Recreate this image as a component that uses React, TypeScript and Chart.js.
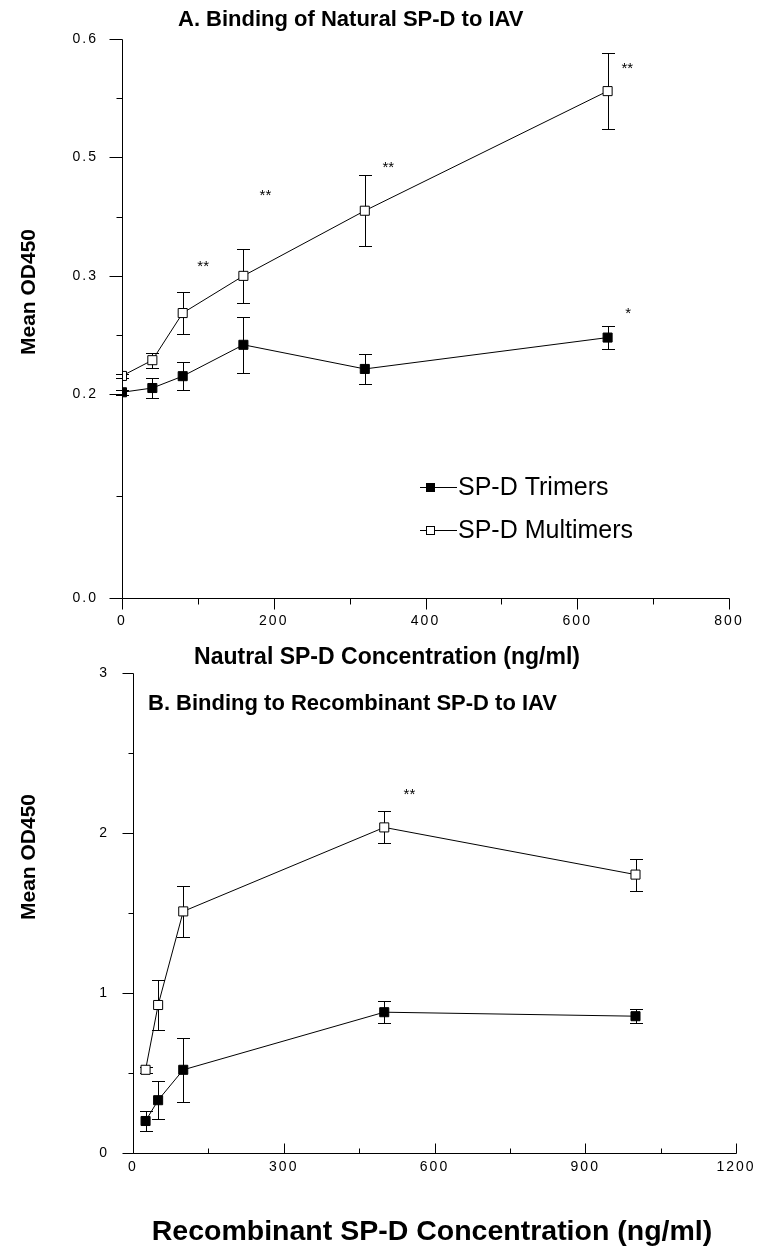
import React, { useEffect, useRef } from 'react';
import { Chart, registerables } from 'chart.js';

Chart.register(...registerables);

// ---------------- Panel A data ----------------
const X_A = [0, 40, 80, 160, 320, 640];
const TRIMER_A = [0.3017, 0.3053, 0.3153, 0.3418, 0.3214, 0.3479];
const TRIMER_A_ERR = [0.002, 0.0085, 0.0116, 0.0237, 0.0125, 0.0097];
const MULTIMER_A = [0.3155, 0.3288, 0.3686, 0.4, 0.455, 0.556];
const MULTIMER_A_ERR = [0.002, 0.0064, 0.018, 0.023, 0.03, 0.032];
const X_TICKS_A = [0, 200, 400, 600, 800];
const Y_TICKS_A = [0.128, 0.3, 0.4, 0.5, 0.6];
const Y_TICK_LABELS_A = ['0.0', '0.2', '0.3', '0.5', '0.6'];
const STAR_A_X = [107, 189, 351, 666, 667];
const STAR_A_Y = [0.4076, 0.4678, 0.4915, 0.5746, 0.3678];
const STAR_A_TEXT = ['**', '**', '**', '**', '*'];

// ---------------- Panel B data ----------------
const X_B = [25, 50, 100, 500, 1000];
const TRIMER_B = [0.2, 0.33, 0.52, 0.88, 0.855];
const TRIMER_B_ERR = [0.06, 0.12, 0.2, 0.07, 0.045];
const MULTIMER_B = [0.52, 0.925, 1.51, 2.035, 1.74];
const MULTIMER_B_ERR = [0.02, 0.155, 0.16, 0.1, 0.1];
const X_TICKS_B = [0, 300, 600, 900, 1200];
const Y_TICKS_B = [0, 1, 2, 3];
const Y_TICK_LABELS_B = ['0', '1', '2', '3'];
const STAR_B_X = [550];
const STAR_B_Y = [2.24];
const STAR_B_TEXT = ['**'];

const SERIES_LABELS = ['SP-D Trimers', 'SP-D Multimers'];

const FONT = '"Liberation Sans", Arial, Helvetica, sans-serif';
const W = 764;

type TextSpec = { text: string; x: number; y: number; align: CanvasTextAlign; size: number; rotate?: boolean };

type PanelSpec = {
  height: number;
  area: { left: number; top: number; right: number; bottom: number };
  xs: number[];
  trimer: number[];
  trimerErr: number[];
  multimer: number[];
  multimerErr: number[];
  xMin: number;
  xMax: number;
  xTicks: number[];
  yMin: number;
  yMax: number;
  yTicks: number[];
  yLabels: string[];
  xTickLen: number;
  xTickUp: boolean;
  yTickLen: number;
  minorLen: number;
  xPad: number;
  yPad: number;
  title: TextSpec;
  xTitle: TextSpec;
  yTitle: TextSpec;
  starX: number[];
  starY: number[];
  starText: string[];
  legend?: { x: number; y1: number; y2: number };
};

function midpoints(v: number[]) {
  const out: number[] = [];
  for (let i = 0; i < v.length - 1; i++) out.push((v[i] + v[i + 1]) / 2);
  return out;
}

function drawSquare(ctx: CanvasRenderingContext2D, x: number, y: number, filled: boolean) {
  const s = 9;
  ctx.save();
  ctx.fillStyle = filled ? '#000' : '#fff';
  ctx.strokeStyle = '#000';
  ctx.lineWidth = 1;
  ctx.fillRect(Math.round(x - s / 2), Math.round(y - s / 2), s, s);
  ctx.strokeRect(Math.round(x - s / 2) + 0.5, Math.round(y - s / 2) + 0.5, s - 1, s - 1);
  ctx.restore();
}

function buildChart(canvas: HTMLCanvasElement, p: PanelSpec) {
  const H = p.height;
  const decor = {
    id: 'decor',
    beforeDraw(chart: any) {
      (chart.ctx as any).letterSpacing = '2px';
    },
    beforeDatasetsDraw(chart: any) {
      const ctx: CanvasRenderingContext2D = chart.ctx;
      (ctx as any).letterSpacing = '0px';
      const xs = chart.scales.x;
      const ys = chart.scales.y;
      ctx.save();
      ctx.strokeStyle = '#000';
      ctx.lineWidth = 1;
      const groups: [number[], number[]][] = [
        [p.trimer, p.trimerErr],
        [p.multimer, p.multimerErr],
      ];
      groups.forEach(([vals, errs]) => {
        vals.forEach((v, i) => {
          const px = Math.round(xs.getPixelForValue(p.xs[i])) + 0.5;
          const top = Math.round(ys.getPixelForValue(v + errs[i])) + 0.5;
          const bot = Math.round(ys.getPixelForValue(v - errs[i])) + 0.5;
          ctx.beginPath();
          ctx.moveTo(px, top);
          ctx.lineTo(px, bot);
          ctx.moveTo(px - 6.5, top);
          ctx.lineTo(px + 6.5, top);
          ctx.moveTo(px - 6.5, bot);
          ctx.lineTo(px + 6.5, bot);
          ctx.stroke();
        });
      });
      ctx.restore();
    },
    afterDraw(chart: any) {
      const ctx: CanvasRenderingContext2D = chart.ctx;
      (ctx as any).letterSpacing = '0px';
      const xs = chart.scales.x;
      const ys = chart.scales.y;
      const a = chart.chartArea;
      ctx.save();
      ctx.strokeStyle = '#000';
      ctx.lineWidth = 1;
      const L = Math.round(a.left) + 0.5;
      const B = Math.round(a.bottom) + 0.5;
      ctx.beginPath();
      ctx.moveTo(L, Math.round(ys.getPixelForValue(p.yMax)) + 0.5);
      ctx.lineTo(L, B);
      ctx.moveTo(L, B);
      ctx.lineTo(Math.round(xs.getPixelForValue(p.xMax)) + 0.5, B);
      p.yTicks.forEach((v) => {
        const py = Math.round(ys.getPixelForValue(v)) + 0.5;
        ctx.moveTo(L - p.yTickLen, py);
        ctx.lineTo(L, py);
      });
      midpoints(p.yTicks).forEach((v) => {
        const py = Math.round(ys.getPixelForValue(v)) + 0.5;
        ctx.moveTo(L - p.minorLen, py);
        ctx.lineTo(L, py);
      });
      const dir = p.xTickUp ? -1 : 1;
      p.xTicks.forEach((v) => {
        const px = Math.round(xs.getPixelForValue(v)) + 0.5;
        ctx.moveTo(px, B);
        ctx.lineTo(px, B + dir * p.xTickLen);
      });
      midpoints(p.xTicks).forEach((v) => {
        const px = Math.round(xs.getPixelForValue(v)) + 0.5;
        ctx.moveTo(px, B);
        ctx.lineTo(px, B + dir * p.minorLen);
      });
      ctx.stroke();

      const drawText = (t: TextSpec) => {
        ctx.save();
        ctx.font = `bold ${t.size}px ${FONT}`;
        ctx.fillStyle = '#000';
        ctx.textAlign = t.align;
        ctx.textBaseline = t.rotate ? 'middle' : 'alphabetic';
        if (t.rotate) {
          ctx.translate(t.x, t.y);
          ctx.rotate(-Math.PI / 2);
          ctx.fillText(t.text, 0, 0);
        } else {
          ctx.fillText(t.text, t.x, t.y);
        }
        ctx.restore();
      };
      drawText(p.title);
      drawText(p.xTitle);
      drawText(p.yTitle);

      ctx.font = `15px ${FONT}`;
      ctx.textAlign = 'center';
      ctx.textBaseline = 'middle';
      ctx.fillStyle = '#000';
      p.starText.forEach((s, i) => {
        ctx.fillText(s, xs.getPixelForValue(p.starX[i]), ys.getPixelForValue(p.starY[i]));
      });

      if (p.legend) {
        const lg = p.legend;
        const rows: [number, boolean, string][] = [
          [lg.y1, true, SERIES_LABELS[0]],
          [lg.y2, false, SERIES_LABELS[1]],
        ];
        rows.forEach(([y, filled, label]) => {
          const yy = Math.round(y) + 0.5;
          ctx.beginPath();
          ctx.moveTo(lg.x, yy);
          ctx.lineTo(lg.x + 37, yy);
          ctx.stroke();
          drawSquare(ctx, lg.x + 10, y, filled);
          ctx.font = `25px ${FONT}`;
          ctx.textAlign = 'left';
          ctx.textBaseline = 'middle';
          ctx.fillStyle = '#000';
          ctx.fillText(label, lg.x + 38, y + 1);
        });
      }
      ctx.restore();
    },
  };

  const mk = (vals: number[]) => p.xs.map((x, i) => ({ x, y: vals[i] }));

  return new Chart(canvas, {
    type: 'scatter',
    data: {
      datasets: [
        {
          label: SERIES_LABELS[0],
          data: mk(p.trimer),
          showLine: true,
          borderColor: '#000',
          borderWidth: 1,
          pointStyle: 'rect',
          pointRadius: 6.4,
          pointBackgroundColor: '#000',
          pointBorderColor: '#000',
          pointBorderWidth: 1,
        },
        {
          label: SERIES_LABELS[1],
          data: mk(p.multimer),
          showLine: true,
          borderColor: '#000',
          borderWidth: 1,
          pointStyle: 'rect',
          pointRadius: 6.4,
          pointBackgroundColor: '#fff',
          pointBorderColor: '#000',
          pointBorderWidth: 1,
        },
      ],
    },
    options: {
      responsive: false,
      animation: false,
      devicePixelRatio: 1,
      events: [],
      layout: {
        padding: { left: 0, top: p.area.top, right: W - p.area.right, bottom: 0 },
      },
      plugins: {
        legend: { display: false },
        title: { display: false },
        tooltip: { enabled: false },
      },
      scales: {
        x: {
          type: 'linear',
          min: p.xMin,
          max: p.xMax,
          afterFit: (s: any) => {
            s.height = H - p.area.bottom;
          },
          afterBuildTicks: (s: any) => {
            s.ticks = p.xTicks.map((v) => ({ value: v }));
          },
          grid: { display: false, drawTicks: !p.xTickUp, tickLength: p.xTickLen },
          border: { display: false },
          ticks: {
            font: { family: FONT, size: 14 },
            color: '#000',
            padding: p.xPad,
            maxRotation: 0,
            autoSkip: false,
            callback: (v: any) => String(v),
          },
        },
        y: {
          type: 'linear',
          min: p.yMin,
          max: p.yMax,
          afterFit: (s: any) => {
            s.width = p.area.left;
          },
          afterBuildTicks: (s: any) => {
            s.ticks = p.yTicks.map((v) => ({ value: v }));
          },
          grid: { display: false, drawTicks: true, tickLength: p.yTickLen },
          border: { display: false },
          ticks: {
            font: { family: FONT, size: 14 },
            color: '#000',
            padding: p.yPad,
            autoSkip: false,
            callback: (v: any) => {
              const i = p.yTicks.indexOf(Number(v));
              return i >= 0 ? p.yLabels[i] : '';
            },
          },
        },
      },
    },
    plugins: [decor],
  } as any);
}

const TOP_A = 0;
const TOP_B = 630;

const PANEL_A: PanelSpec = {
  height: 690,
  area: { left: 122, top: 39, right: 729, bottom: 598 },
  xs: X_A,
  trimer: TRIMER_A,
  trimerErr: TRIMER_A_ERR,
  multimer: MULTIMER_A,
  multimerErr: MULTIMER_A_ERR,
  xMin: 0,
  xMax: 800,
  xTicks: X_TICKS_A,
  yMin: 0.128,
  yMax: 0.6,
  yTicks: Y_TICKS_A,
  yLabels: Y_TICK_LABELS_A,
  xTickLen: 11,
  xTickUp: false,
  yTickLen: 13,
  minorLen: 6,
  xPad: 4,
  yPad: 11,
  title: { text: 'A. Binding of Natural SP-D to IAV', x: 178, y: 26, align: 'left', size: 22 },
  xTitle: { text: 'Nautral SP-D Concentration (ng/ml)', x: 387, y: 664, align: 'center', size: 23 },
  yTitle: { text: 'Mean OD450', x: 29, y: 292, align: 'center', size: 21, rotate: true },
  starX: STAR_A_X,
  starY: STAR_A_Y,
  starText: STAR_A_TEXT,
  legend: { x: 420, y1: 487, y2: 530 },
};

const PANEL_B: PanelSpec = {
  height: 1254 - TOP_B,
  area: { left: 133, top: 673 - TOP_B, right: 736, bottom: 1153 - TOP_B },
  xs: X_B,
  trimer: TRIMER_B,
  trimerErr: TRIMER_B_ERR,
  multimer: MULTIMER_B,
  multimerErr: MULTIMER_B_ERR,
  xMin: 0,
  xMax: 1200,
  xTicks: X_TICKS_B,
  yMin: 0,
  yMax: 3,
  yTicks: Y_TICKS_B,
  yLabels: Y_TICK_LABELS_B,
  xTickLen: 10,
  xTickUp: true,
  yTickLen: 11,
  minorLen: 5,
  xPad: 6,
  yPad: 13,
  title: { text: 'B. Binding to Recombinant SP-D to IAV', x: 148, y: 710 - TOP_B, align: 'left', size: 22 },
  xTitle: { text: 'Recombinant SP-D Concentration (ng/ml)', x: 432, y: 1240 - TOP_B, align: 'center', size: 28.5 },
  yTitle: { text: 'Mean OD450', x: 29, y: 857 - TOP_B, align: 'center', size: 21, rotate: true },
  starX: STAR_B_X,
  starY: STAR_B_Y,
  starText: STAR_B_TEXT,
};

function Panel({ spec, top }: { spec: PanelSpec; top: number }) {
  const ref = useRef<HTMLCanvasElement | null>(null);
  useEffect(() => {
    if (!ref.current) return;
    const chart = buildChart(ref.current, spec);
    return () => chart.destroy();
  }, [spec]);
  return (
    <canvas
      ref={ref}
      width={W}
      height={spec.height}
      style={{ position: 'absolute', left: 0, top, width: W, height: spec.height, display: 'block' }}
    />
  );
}

export default function App() {
  return (
    <div style={{ position: 'absolute', left: 0, top: 0, width: W, height: 1254, background: '#fff' }}>
      <Panel spec={PANEL_A} top={TOP_A} />
      <Panel spec={PANEL_B} top={TOP_B} />
    </div>
  );
}
